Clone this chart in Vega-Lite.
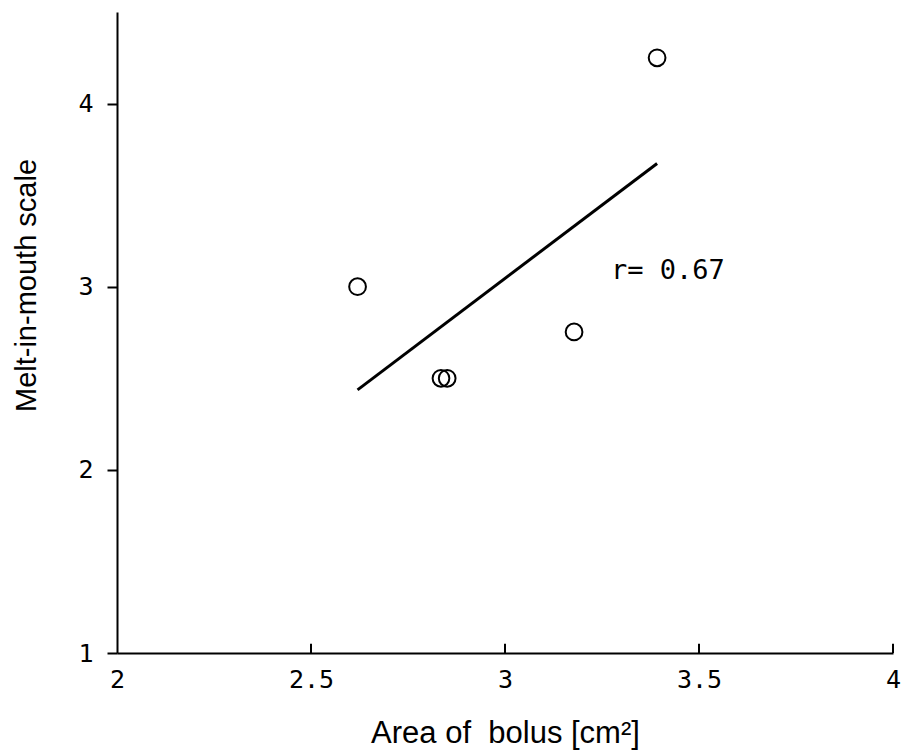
{
  "$schema": "https://vega.github.io/schema/vega-lite/v6.json",
  "width": 776,
  "height": 641,
  "autosize": "none",
  "padding": {"left": 117, "top": 12, "right": 10, "bottom": 98},
  "background": "white",
  "config": {
    "view": {"stroke": null},
    "axis": {"grid": false, "domainColor": "black", "domainWidth": 2, "tickColor": "black", "tickWidth": 2, "labelColor": "black", "titleColor": "black"}
  },
  "datasets": {
    "pts": [
      {"area": 2.62, "melt": 3.0},
      {"area": 2.835, "melt": 2.5},
      {"area": 2.851, "melt": 2.5},
      {"area": 3.178, "melt": 2.753},
      {"area": 3.392, "melt": 4.25}
    ],
    "fit": [
      {"area": 2.62, "melt": 2.437},
      {"area": 3.392, "melt": 3.673}
    ],
    "xticks": [
      {"area": 2.5, "lo": 1, "hi": 1.05},
      {"area": 3.0, "lo": 1, "hi": 1.05},
      {"area": 3.5, "lo": 1, "hi": 1.05},
      {"area": 4.0, "lo": 1, "hi": 1.05}
    ],
    "ann": [
      {"area": 3.273, "melt": 3.085, "label": "r= 0.67"}
    ]
  },
  "layer": [
    {
      "data": {"name": "fit"},
      "mark": {"type": "line", "color": "black", "strokeWidth": 3},
      "encoding": {
        "x": {"field": "area", "type": "quantitative", "scale": {"domain": [2, 4], "nice": false, "zero": false},
          "axis": {"values": [2, 2.5, 3, 3.5, 4], "format": "~g", "ticks": false, "labelFlush": false, "labelPadding": 14,
            "labelFont": "DejaVu Sans Mono", "labelFontSize": 25,
            "title": "Area of\u00a0 bolus [cm²]", "titleFont": "Liberation Sans", "titleFontSize": 31, "titleFontWeight": "normal", "titlePadding": 26}},
        "y": {"field": "melt", "type": "quantitative", "scale": {"domain": [1, 4.5], "nice": false, "zero": false},
          "axis": {"values": [1, 2, 3, 4], "format": "~g", "tickSize": 10, "labelPadding": 14, "labelFlush": false,
            "labelFont": "DejaVu Sans Mono", "labelFontSize": 25,
            "title": "Melt-in-mouth scale", "titleFont": "Liberation Sans", "titleFontSize": 29, "titleFontWeight": "normal", "titlePadding": 36, "titleY": 273}}
      }
    },
    {
      "data": {"name": "xticks"},
      "mark": {"type": "rule", "color": "black", "strokeWidth": 2},
      "encoding": {
        "x": {"field": "area", "type": "quantitative"},
        "y": {"field": "lo", "type": "quantitative"},
        "y2": {"field": "hi"}
      }
    },
    {
      "data": {"name": "pts"},
      "mark": {"type": "point", "shape": "circle", "filled": false, "stroke": "black", "strokeWidth": 2, "size": 280, "opacity": 1},
      "encoding": {
        "x": {"field": "area", "type": "quantitative"},
        "y": {"field": "melt", "type": "quantitative"}
      }
    },
    {
      "data": {"name": "ann"},
      "mark": {"type": "text", "align": "left", "baseline": "middle", "font": "DejaVu Sans Mono", "fontSize": 27, "color": "black"},
      "encoding": {
        "x": {"field": "area", "type": "quantitative"},
        "y": {"field": "melt", "type": "quantitative"},
        "text": {"field": "label"}
      }
    }
  ]
}
